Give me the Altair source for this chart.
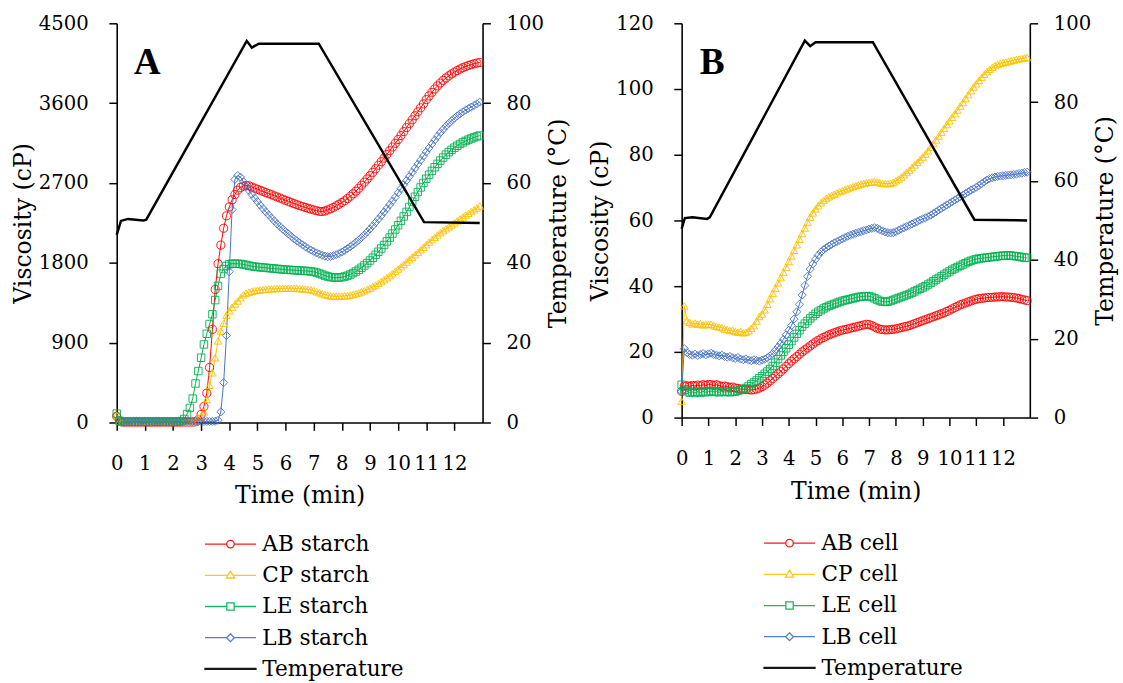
import altair as alt
import pandas as pd

FONT = "DejaVu Serif"
COLORS = ["#FF0000", "#FFC000", "#00B050", "#4472C4", "#000000"]
PLOT_SHAPES = ["circle", "triangle-up", "square", "diamond"]
PLOT_SIZES = [68, 58, 58, 68]
LEGEND_PATHS = [
    "M-5.2,0H-0.77M0.77,0H5.2M0.77,0A0.77,0.77,0,1,1,-0.77,0A0.77,0.77,0,1,1,0.77,0",
    "M-5.2,0H-0.52M0.52,0H5.2M0,-0.85L0.85,0.55L-0.85,0.55Z",
    "M-5.2,0H-0.75M0.75,0H5.2M-0.75,-0.75H0.75V0.75H-0.75Z",
    "M-5.2,0H-0.8M0.8,0H5.2M0,-0.8L0.8,0L0,0.8L-0.8,0Z",
    "M-5.2,-0.1H5.2V0.1H-5.2Z",
]

# ---------------- Panel A : starch (viscosity, cP), one value every 0.1 min ----------------
a_names = ["AB starch", "CP starch", "LE starch", "LB starch"]
a_ab = [70, 15, 5, 5, 5, 5, 5, 5, 5, 5,
        5, 5, 5, 5, 5, 5, 5, 5, 5, 5,
        5, 5, 5, 5, 5, 5, 5, 5, 8, 30,
        90, 180, 330, 620, 1050, 1500, 1790, 2000, 2190, 2330,
        2430, 2510, 2570, 2620, 2650, 2665, 2672, 2668, 2655, 2642,
        2630, 2618, 2605, 2592, 2580, 2568, 2555, 2543, 2530, 2518,
        2505, 2493, 2480, 2468, 2456, 2445, 2435, 2425, 2415, 2405,
        2396, 2388, 2380, 2378, 2385, 2396, 2410, 2425, 2442, 2460,
        2480, 2500, 2525, 2550, 2578, 2608, 2640, 2675, 2710, 2745,
        2782, 2820, 2860, 2900, 2940, 2980, 3022, 3064, 3106, 3148,
        3190, 3235, 3280, 3325, 3370, 3412, 3458, 3503, 3548, 3592,
        3640, 3682, 3722, 3760, 3795, 3827, 3857, 3884, 3908, 3930,
        3950, 3968, 3985, 4000, 4013, 4025, 4035, 4044, 4052, 4058]
a_cp = [80, 15, 5, 5, 5, 5, 5, 5, 5, 5,
        5, 5, 5, 5, 5, 5, 5, 5, 5, 5,
        5, 5, 5, 5, 5, 5, 5, 5, 20, 50,
        70, 120, 260, 420, 560, 730, 920, 1030, 1120, 1210,
        1260, 1300, 1335, 1370, 1405, 1440, 1458, 1470, 1480, 1486,
        1491, 1495, 1499, 1502, 1505, 1507, 1509, 1511, 1512, 1513,
        1514, 1514, 1514, 1513, 1512, 1510, 1508, 1505, 1501, 1496,
        1488, 1476, 1464, 1452, 1442, 1434, 1428, 1425, 1424, 1424,
        1425, 1427, 1431, 1436, 1443, 1451, 1461, 1473, 1486, 1500,
        1515, 1532, 1550, 1569, 1589, 1610, 1632, 1655, 1679, 1704,
        1730, 1756, 1782, 1809, 1836, 1863, 1891, 1919, 1947, 1975,
        2005, 2033, 2061, 2088, 2115, 2140, 2163, 2185, 2206, 2228,
        2250, 2272, 2294, 2316, 2338, 2358, 2378, 2398, 2418, 2440]
a_le = [100, 20, 8, 8, 8, 8, 8, 8, 8, 8,
        8, 8, 8, 8, 8, 8, 8, 8, 8, 8,
        8, 8, 8, 15, 40, 95, 165, 270, 440, 580,
        730, 880, 1000, 1110, 1220, 1380, 1540, 1678, 1730, 1765,
        1785, 1790, 1790, 1789, 1787, 1782, 1775, 1768, 1762, 1757,
        1753, 1750, 1747, 1744, 1741, 1738, 1735, 1732, 1729, 1726,
        1723, 1721, 1719, 1717, 1715, 1713, 1711, 1709, 1707, 1703,
        1698, 1690, 1680, 1668, 1656, 1646, 1639, 1635, 1633, 1634,
        1638, 1645, 1655, 1668, 1684, 1702, 1722, 1745, 1770, 1797,
        1826, 1857, 1890, 1925, 1962, 2001, 2042, 2085, 2130, 2176,
        2224, 2273, 2323, 2374, 2430, 2490, 2545, 2598, 2650, 2700,
        2748, 2793, 2836, 2877, 2916, 2953, 2987, 3019, 3048, 3074,
        3098, 3120, 3140, 3158, 3174, 3189, 3202, 3214, 3225, 3235]
a_lb = [80, 20, 12, 12, 12, 12, 12, 12, 12, 12,
        12, 12, 12, 12, 12, 12, 12, 12, 12, 12,
        12, 12, 12, 12, 12, 12, 12, 12, 12, 12,
        12, 12, 12, 12, 12, 14, 25, 120, 450, 980,
        1700, 2400, 2740, 2785, 2765, 2715, 2660, 2615, 2572, 2530,
        2490, 2450, 2412, 2375, 2340, 2305, 2272, 2240, 2210, 2180,
        2152, 2125, 2098, 2072, 2048, 2025, 2003, 1982, 1962, 1944,
        1928, 1912, 1898, 1885, 1875, 1870, 1872, 1880, 1892, 1906,
        1922, 1940, 1960, 1982, 2005, 2030, 2057, 2085, 2115, 2148,
        2182, 2218, 2255, 2293, 2332, 2372, 2413, 2455, 2497, 2540,
        2590, 2636, 2682, 2728, 2774, 2820, 2866, 2912, 2958, 3004,
        3050, 3095, 3140, 3184, 3228, 3268, 3305, 3340, 3372, 3402,
        3430, 3456, 3480, 3502, 3522, 3540, 3557, 3575, 3593, 3612]
a_temp_time = [0, 0.15, 0.4, 0.95, 1.05, 4.62, 4.8, 5.05, 7.18, 10.92, 12.9]
a_temp = [47, 50.5, 51, 50.6, 50.8, 95.6, 93.9, 94.9, 94.9, 50.2, 50]

# ---------------- Panel B : cells (viscosity, cP), one value every 0.1 min ----------------
b_names = ["AB cell", "CP cell", "LE cell", "LB cell"]
b_ab = [8, 9.6, 9.7, 9.5, 9.8, 9.6, 9.9, 9.7, 10.0, 9.8,
        10.1, 10.0, 9.8, 10.0, 9.7, 9.5, 9.6, 9.4, 9.2, 9.3,
        9.0, 8.9, 8.7, 8.6, 8.5, 8.5, 8.4, 8.5, 8.7, 9.0,
        9.4, 9.9, 10.5, 11.2, 11.9, 12.6, 13.3, 14.0, 14.8, 15.6,
        16.4, 17.2, 17.9, 18.6, 19.3, 20.0, 20.6, 21.2, 21.8, 22.4,
        23.0, 23.5, 24.0, 24.4, 24.8, 25.2, 25.5, 25.8, 26.1, 26.4,
        26.6, 26.8, 27.0, 27.2, 27.4, 27.6, 27.8, 28.0, 28.2, 28.4,
        28.3, 28.0, 27.6, 27.2, 26.9, 26.8, 26.7, 26.7, 26.8, 26.9,
        27.0, 27.2, 27.4, 27.6, 27.8, 28.0, 28.3, 28.6, 28.9, 29.2,
        29.5, 29.8, 30.1, 30.4, 30.7, 31.0, 31.3, 31.6, 31.9, 32.3,
        32.7, 33.1, 33.5, 33.9, 34.3, 34.6, 34.9, 35.2, 35.5, 35.8,
        36.0, 36.2, 36.3, 36.4, 36.5, 36.6, 36.6, 36.7, 36.7, 36.8,
        36.8, 36.7, 36.7, 36.6, 36.5, 36.4, 36.2, 36.0, 35.8, 35.6]
b_cp = [5, 34, 29.5, 29.0, 28.5, 28.8, 28.4, 28.6, 28.2, 28.5,
        28.3, 28.4, 28.0, 27.8, 27.6, 27.4, 27.0, 26.8, 26.5, 26.6,
        26.2, 26.0, 26.2, 25.8, 26.0, 26.4, 27.2, 28.0, 29.4, 30.8,
        31.5, 32.8, 34.5, 36.2, 37.8, 39.4, 41.0, 42.6, 44.2, 45.8,
        47.5, 49.2, 50.9, 52.6, 54.3, 56.0, 57.7, 59.4, 61.0, 62.3,
        63.5, 64.5, 65.4, 66.1, 66.7, 67.2, 67.6, 68.0, 68.4, 68.8,
        69.1, 69.4, 69.7, 70.0, 70.3, 70.6, 70.8, 71.1, 71.3, 71.5,
        71.6, 71.7, 71.8, 71.7, 71.5, 71.3, 71.2, 71.2, 71.3, 71.6,
        72.1, 72.6, 73.2, 73.9, 74.6, 75.3, 76.1, 76.9, 77.7, 78.5,
        79.3, 80.2, 81.2, 82.3, 83.4, 84.5, 85.7, 86.9, 88.0, 89.2,
        90.3, 91.4, 92.5, 93.6, 94.8, 95.9, 97.1, 98.3, 99.5, 100.6,
        101.6, 102.6, 103.6, 104.5, 105.3, 106.0, 106.6, 107.1, 107.5, 107.8,
        108.0, 108.2, 108.4, 108.6, 108.8, 109.0, 109.2, 109.3, 109.5, 109.6]
b_le = [10, 8.5, 8.0, 7.6, 7.8, 7.5, 7.9, 7.6, 8.0, 7.7,
        7.9, 8.1, 7.8, 8.0, 7.7, 8.0, 7.8, 7.9, 7.7, 8.0,
        7.9, 8.2, 8.4, 8.6, 9.0, 9.6, 10.2, 10.7, 11.3, 12.0,
        12.6, 13.3, 14.0, 14.8, 15.7, 16.7, 17.8, 18.9, 20.0, 21.1,
        22.2, 23.3, 24.4, 25.5, 26.6, 27.7, 28.6, 29.4, 30.2, 30.9,
        31.6, 32.2, 32.7, 33.2, 33.6, 34.0, 34.3, 34.6, 34.9, 35.2,
        35.5, 35.7, 35.9, 36.1, 36.3, 36.5, 36.7, 36.8, 36.9, 37.0,
        36.9, 36.7, 36.3, 35.9, 35.5, 35.3, 35.2, 35.3, 35.5, 35.8,
        36.1, 36.4, 36.7, 37.0, 37.3, 37.6, 38.0, 38.4, 38.8, 39.2,
        39.6, 40.0, 40.5, 41.0, 41.5, 42.0, 42.5, 43.0, 43.5, 44.0,
        44.5, 45.0, 45.4, 45.8, 46.2, 46.6, 47.0, 47.4, 47.7, 48.0,
        48.2, 48.4, 48.5, 48.6, 48.7, 48.8, 48.9, 49.0, 49.1, 49.2,
        49.3, 49.3, 49.4, 49.3, 49.2, 49.1, 49.0, 48.8, 48.7, 48.6]
b_lb = [8, 21, 19.8, 19.2, 19.0, 19.3, 18.9, 19.2, 19.5, 19.1,
        19.4, 19.6, 19.2, 19.0, 18.8, 19.0, 18.6, 18.4, 18.6, 18.2,
        18.0, 18.3, 17.8, 17.6, 17.9, 17.5, 17.3, 17.6, 17.4, 17.2,
        17.5, 17.8, 18.2, 18.8, 19.5, 20.5, 21.5, 22.6, 23.8, 25.2,
        26.6, 28.0, 30.0, 32.2, 34.5, 37.3, 40.2, 43.0, 45.2, 46.8,
        48.2, 49.4, 50.4, 51.1, 51.7, 52.2, 52.7, 53.2, 53.6, 54.0,
        54.4, 54.8, 55.2, 55.5, 55.8, 56.1, 56.4, 56.6, 56.9, 57.1,
        57.4, 57.6, 57.8, 57.6, 57.2, 56.8, 56.5, 56.3, 56.2, 56.3,
        56.6, 57.0, 57.4, 57.8, 58.2, 58.5, 58.9, 59.3, 59.7, 60.1,
        60.5, 60.8, 61.2, 61.6, 62.1, 62.6, 63.2, 63.7, 64.2, 64.7,
        65.2, 65.7, 66.2, 66.7, 67.2, 67.7, 68.2, 68.7, 69.2, 69.6,
        70.1, 70.6, 71.2, 71.8, 72.3, 72.7, 73.0, 73.2, 73.4, 73.5,
        73.6, 73.7, 73.8, 73.9, 74.0, 74.1, 74.3, 74.4, 74.6, 74.7]
b_temp_time = [0, 0.12, 0.4, 0.95, 1.05, 4.6, 4.8, 5.0, 7.14, 10.93, 12.9]
b_temp = [47.9, 50.6, 50.8, 50.4, 50.8, 95.6, 94.2, 95.2, 95.2, 50.2, 50]

x_tick_values = list(range(13))
a_yticks = [0, 900, 1800, 2700, 3600, 4500]
b_yticks = [0, 20, 40, 60, 80, 100, 120]
temp_ticks = [0, 20, 40, 60, 80, 100]


def long_df(names, series):
    rows = []
    for name, vals in zip(names, series):
        for i, v in enumerate(vals):
            rows.append({"time": round(i * 0.1, 1), "value": v, "series": name})
    return pd.DataFrame(rows)


def panel(letter, names, series, t_time, t_vals, ymax, yticks, w, h, lx, ly):
    df = long_df(names, series)
    domain = names + ["Temperature"]
    cscale = alt.Scale(domain=domain, range=COLORS)
    leg_def = alt.Legend(title=None, orient="none", legendX=lx, legendY=ly)
    color = alt.Color("series:N", scale=cscale, legend=leg_def)
    x = alt.X("time:Q", scale=alt.Scale(domain=[0, 13], nice=False, zero=False),
              axis=alt.Axis(values=x_tick_values, title="Time (min)", labelFlush=False,
                            labelPadding=24, titlePadding=11))
    y = alt.Y("value:Q", scale=alt.Scale(domain=[0, ymax], nice=False),
              axis=alt.Axis(values=yticks, title="Viscosity (cP)", orient="left",
                            format="d", labelPadding=21, titlePadding=3))
    base = alt.Chart(df)
    lines = base.mark_line(strokeWidth=1).encode(
        x=x, y=y, detail="series:N", color=color)
    pts = []
    for n, s, sz in zip(names, PLOT_SHAPES, PLOT_SIZES):
        pts.append(base.transform_filter(alt.datum.series == n)
                   .mark_point(shape=s, filled=False, size=sz, strokeWidth=1, opacity=0.9)
                   .encode(x=x, y=y, color=color))
    leg_df = pd.DataFrame({"series": domain,
                           "time": [None] * len(domain),
                           "value": [None] * len(domain)})
    legend = alt.Chart(leg_df).mark_point(filled=False).encode(
        x=x, y=y, color=color,
        shape=alt.Shape("series:N", scale=alt.Scale(domain=domain, range=LEGEND_PATHS),
                        legend=leg_def))
    lab = alt.Chart(pd.DataFrame({"t": [letter]})).mark_text(
        font="Liberation Serif", fontWeight="bold", fontSize=38,
        align="center", baseline="alphabetic", color="black").encode(
        text="t:N", x=alt.value(31), y=alt.value(52))
    visc = alt.layer(lines, *pts, legend, lab)
    tdf = pd.DataFrame({"time": t_time, "temp": t_vals})
    temp = alt.Chart(tdf).mark_line(color="black", strokeWidth=2.5).encode(
        x=x,
        y=alt.Y("temp:Q", scale=alt.Scale(domain=[0, 100], nice=False),
                axis=alt.Axis(orient="right", values=temp_ticks, title="Temperature (°C)",
                              labelPadding=16, titlePadding=3,
                              titleAngle=270, titleBaseline="top")))
    return alt.layer(visc, temp).resolve_scale(y="independent").properties(width=w, height=h)


pa = panel("A", a_names, [a_ab, a_cp, a_le, a_lb], a_temp_time, a_temp,
           4500, a_yticks, 373, 407, 105, 520)
pb = panel("B", b_names, [b_ab, b_cp, b_le, b_lb], b_temp_time, b_temp,
           120, b_yticks, 355, 402, 99, 519)

chart = (alt.hconcat(pa, pb, spacing=18)
         .resolve_scale(color="independent", shape="independent")
         .properties(padding={"left": 12, "top": 7, "right": 5, "bottom": 5},
                     background="white")
         .configure_view(stroke=None)
         .configure_axis(domainColor="black", domainWidth=1.6, tickColor="black",
                         tickWidth=1.5, tickSize=8, grid=False,
                         labelFont=FONT, labelFontSize=20, labelColor="black",
                         titleFont=FONT, titleFontSize=24, titleFontWeight="normal",
                         titleColor="black")
         .configure_legend(labelFont=FONT, labelFontSize=22, labelColor="black",
                           symbolSize=100, symbolStrokeWidth=1.3, labelOffset=21.5,
                           rowPadding=9.8, padding=0, labelLimit=300))

chart.save("out.html", embed_options={"renderer": "svg", "actions": False})
